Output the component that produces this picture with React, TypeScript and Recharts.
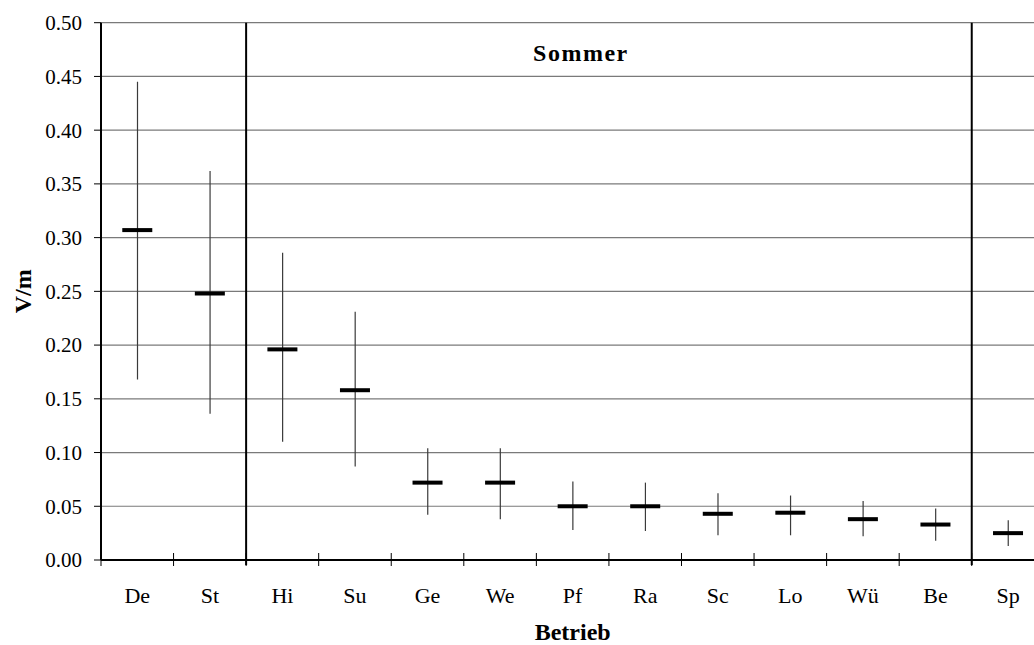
import {
  ComposedChart,
  Bar,
  Line,
  XAxis,
  YAxis,
  CartesianGrid,
  ReferenceArea,
} from "recharts";

const categories = ["De", "St", "Hi", "Su", "Ge", "We", "Pf", "Ra", "Sc", "Lo", "Wü", "Be", "Sp"];
const meanValues = [0.307, 0.248, 0.196, 0.158, 0.072, 0.072, 0.05, 0.05, 0.043, 0.044, 0.038, 0.033, 0.025];
const minValues = [0.168, 0.136, 0.11, 0.087, 0.042, 0.038, 0.028, 0.027, 0.023, 0.023, 0.022, 0.018, 0.013];
const maxValues = [0.445, 0.362, 0.286, 0.231, 0.104, 0.104, 0.073, 0.072, 0.062, 0.06, 0.055, 0.048, 0.037];
const yTicks = [0, 0.05, 0.1, 0.15, 0.2, 0.25, 0.3, 0.35, 0.4, 0.45, 0.5];

const rows = categories.map((name, i) => ({
  name,
  mean: meanValues[i],
  range: [minValues[i], maxValues[i]],
}));

const FONT = "Liberation Serif";

// thin vertical min-max line, centred in the band
const Whisker = (props: any) => {
  const { x, y, width, height } = props;
  const cx = x + width / 2;
  const top = Math.min(y, y + height);
  return <line x1={cx} x2={cx} y1={top} y2={top + Math.abs(height)} stroke="#3a3a3a" strokeWidth={1.2} />;
};

// thick black dash for the mean
const MeanDash = (props: any) => {
  const { cx, cy, index } = props;
  return <rect key={index} x={cx - 15} y={cy - 2} width={30} height={4} fill="#000" />;
};

// two separators around the summer block plus its title
const SummerFrame = (props: any) => {
  const { x, y, width, height } = props;
  return (
    <g>
      <line x1={x} x2={x} y1={y} y2={y + height + 5} stroke="#000" strokeWidth={2} />
      <line x1={x + width} x2={x + width} y1={y} y2={y + height + 5} stroke="#000" strokeWidth={2} />
      <text
        x={x + width / 2 - 28}
        y={y + 38}
        textAnchor="middle"
        style={{ fontFamily: FONT }}
        fontSize={24}
        fontWeight="bold"
        letterSpacing={1.5}
        fill="#000"
      >
        Sommer
      </text>
    </g>
  );
};

const CategoryTick = (props: any) => {
  const { x, y, payload } = props;
  const half = payload?.offset ?? 36.28;
  return (
    <g>
      <line x1={x - half} x2={x - half} y1={y - 7} y2={y + 6} stroke="#000" strokeWidth={1} />
      <text x={x} y={y + 43} textAnchor="middle" style={{ fontFamily: FONT }} fontSize={22} fill="#000">
        {payload.value}
      </text>
    </g>
  );
};

const ValueTick = (props: any) => {
  const { x, y, payload } = props;
  return (
    <text x={x} y={y} dy="0.35em" textAnchor="end" style={{ fontFamily: FONT }} fontSize={21} fill="#000">
      {Number(payload.value).toFixed(2)}
    </text>
  );
};

export default function App() {
  return (
    <div
      style={{
        position: "absolute",
        left: 0,
        top: 0,
        width: 1034,
        height: 645,
        overflow: "hidden",
        background: "#fff",
        fontFamily: FONT,
      }}
    >
      <ComposedChart
        width={1045}
        height={645}
        data={rows}
        margin={{ top: 22.7, right: 0.7, bottom: 0, left: 0 }}
        barCategoryGap="0%"
        style={{ fontFamily: FONT }}
      >
        <CartesianGrid vertical={false} stroke="#7a7a7a" strokeWidth={1.2} />
        <XAxis
          dataKey="name"
          height={85}
          interval={0}
          tickSize={0}
          tickMargin={0}
          tickLine={false}
          axisLine={{ stroke: "#000", strokeWidth: 2 }}
          tick={<CategoryTick />}
          label={{
            value: "Betrieb",
            position: "insideBottom",
            offset: 5,
            style: { fontFamily: FONT, fontSize: 24, fontWeight: "bold", fill: "#000" },
          }}
        />
        <YAxis
          width={101}
          domain={[0, 0.5]}
          ticks={yTicks}
          allowDataOverflow
          tickSize={7}
          tickMargin={12}
          axisLine={{ stroke: "#000", strokeWidth: 2 }}
          tickLine={{ stroke: "#000" }}
          tick={<ValueTick />}
          label={{
            content: (p: any) => {
              const vb = p.viewBox;
              const lx = vb.x + 31;
              const ly = vb.y + vb.height / 2;
              return (
                <text
                  x={lx}
                  y={ly}
                  transform={`rotate(-90 ${lx} ${ly})`}
                  textAnchor="middle"
                  style={{ fontFamily: FONT }}
                  fontSize={24}
                  fontWeight="bold"
                  fill="#000"
                >
                  V/m
                </text>
              );
            },
          }}
        />
        <ReferenceArea x1="Hi" x2="Be" y1={0} y2={0.5} shape={SummerFrame} />
        <Bar dataKey="range" shape={Whisker} isAnimationActive={false} />
        <Line dataKey="mean" stroke="none" dot={MeanDash} activeDot={false} isAnimationActive={false} />
      </ComposedChart>
    </div>
  );
}
